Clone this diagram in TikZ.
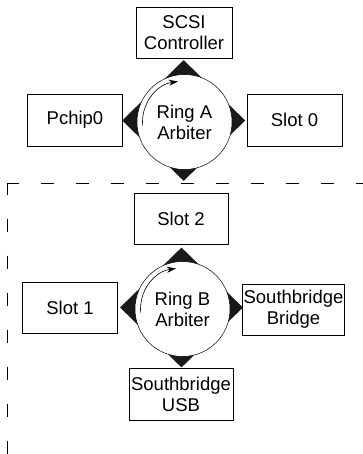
\documentclass[tikz,border=0pt]{standalone}
\usepackage{fontspec}
\setmainfont{Liberation Sans}
\usetikzlibrary{shapes.geometric,arrows.meta}
\tikzset{
  unit/.style={draw=black, line width=0.9pt, fill=white, inner sep=0pt, align=center, font=\fontsize{18.5}{21}\selectfont},
  arb/.style={diamond, fill=black!90, draw=none, inner sep=0pt, aspect=1},
  ring/.style={circle, draw=black, line width=0.5pt, fill=white, inner sep=0pt, align=center, font=\fontsize{18.5}{21}\selectfont},
  rot/.style={line width=0.6pt, -{Stealth[length=9pt,width=6pt]}},
  boundline/.style={line width=0.9pt, dash pattern=on 13pt off 22pt}
}
\begin{document}
\begin{tikzpicture}[x=1pt,y=-1pt]
\useasboundingbox (0,0) rectangle (363,454);
% Ring A
\node[arb, minimum width=123pt, minimum height=121pt] (dA) at (183.7,120.5) {};
\node[ring, minimum size=95pt] (rA) at (184.5,122) {Ring A\\Arbiter};
\draw[rot] ([shift={(-185:42)}]rA.center) arc[start angle=-185, end angle=-98, radius=41];
\node[unit, minimum width=96pt, minimum height=51pt] (scsi) at (184,32.5) {SCSI\\Controller};
\node[unit, minimum width=95pt, minimum height=52pt] (pchip) at (75,120) {Pchip0};
\node[unit, minimum width=95pt, minimum height=52pt] (slot0) at (294.5,120) {Slot 0};
% domain boundary
\coordinate (corner) at (7.5,183.5);
\coordinate (hend) at (363,183.5);
\coordinate (vend) at (7.5,454);
\draw[boundline, dash phase=2pt] (corner) -- (hend);
\draw[boundline, dash pattern=on 13pt off 24pt, dash phase=2pt] (corner) -- (vend);
% Ring B
\node[arb, minimum width=123pt, minimum height=120pt] (dB) at (181.5,307.5) {};
\node[ring, minimum size=95pt] (rB) at (182.5,309) {Ring B\\Arbiter};
\draw[rot] ([shift={(-185:42)}]rB.center) arc[start angle=-185, end angle=-98, radius=41];
\node[unit, minimum width=94pt, minimum height=51pt] (slot2) at (181,219) {Slot 2};
\node[unit, minimum width=95pt, minimum height=51pt] (slot1) at (70,307.5) {Slot 1};
\node[unit, minimum width=102pt, minimum height=51pt] (sbb) at (293.5,309.5) {Southbridge\\Bridge};
\node[unit, minimum width=104pt, minimum height=52pt] (sbu) at (181,394) {Southbridge\\USB};
\end{tikzpicture}
\end{document}
